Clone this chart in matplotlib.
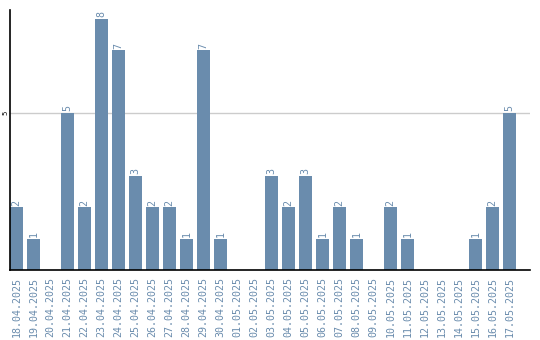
import matplotlib
matplotlib.use("Agg")
from matplotlib import pyplot as plt

# data
dates = ["18.04.2025", "19.04.2025", "20.04.2025", "21.04.2025", "22.04.2025",
         "23.04.2025", "24.04.2025", "25.04.2025", "26.04.2025", "27.04.2025",
         "28.04.2025", "29.04.2025", "30.04.2025", "01.05.2025", "02.05.2025",
         "03.05.2025", "04.05.2025", "05.05.2025", "06.05.2025", "07.05.2025",
         "08.05.2025", "09.05.2025", "10.05.2025", "11.05.2025", "12.05.2025",
         "13.05.2025", "14.05.2025", "15.05.2025", "16.05.2025", "17.05.2025"]
counts = [2, 1, 0, 5, 2, 8, 7, 3, 2, 2, 1, 7, 1, 0, 0,
          3, 2, 3, 1, 2, 1, 0, 2, 1, 0, 0, 0, 1, 2, 5]

bar_color = "#6a8cad"

fig = plt.figure(figsize=(5.4, 3.4), dpi=100)
ax = fig.add_axes([10/540, 70/340, 520/540, 260/340])

x = range(len(dates))
w = 0.76
ax.bar(x, counts, width=w, color=bar_color, zorder=2)

# value labels (skip zeros)
for i, v in enumerate(counts):
    if v > 0:
        ax.text(i, v + 0.05, str(v), rotation=90, ha="center", va="bottom",
                color=bar_color, fontsize=7.2, family="DejaVu Sans Mono")

ax.set_xlim(-w/2, 30.2)
ax.set_ylim(0, 8.28)

ax.set_xticks(list(x))
ax.set_xticklabels(dates, rotation=90, color=bar_color, fontsize=7.2,
                   family="DejaVu Sans Mono")
ax.tick_params(axis="x", length=0, pad=5)

ax.set_yticks([5])
ax.set_yticklabels(["5"], rotation=90, va="center", fontsize=5)
ax.tick_params(axis="y", length=0, pad=1)
ax.grid(axis="y", color="#cccccc", linewidth=1, zorder=0)

for s in ["top", "right"]:
    ax.spines[s].set_visible(False)
ax.spines["left"].set_linewidth(1.2)
ax.spines["bottom"].set_linewidth(1.2)

plt.savefig("out.png", dpi=100)
